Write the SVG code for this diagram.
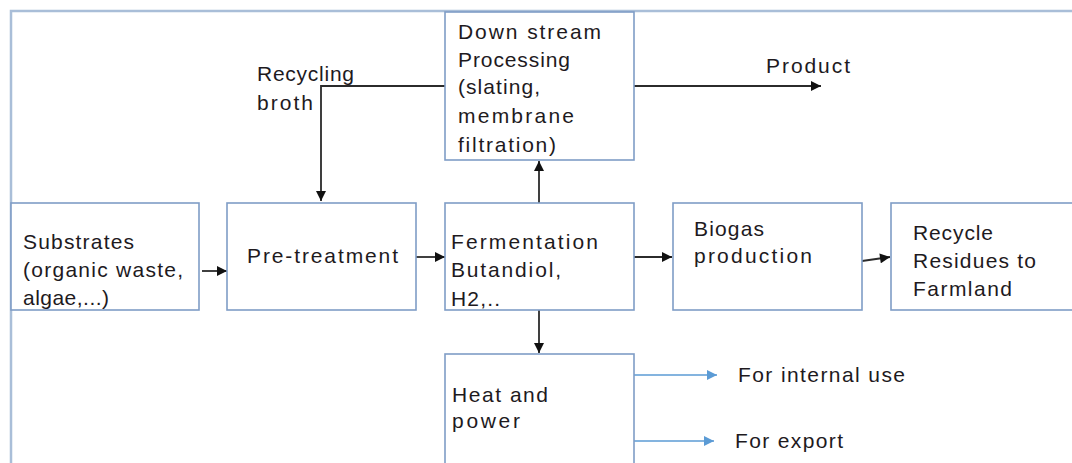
<svg xmlns="http://www.w3.org/2000/svg" width="1072" height="463" viewBox="0 0 1072 463">
<defs>
<style>
.frame{fill:none;stroke:#a9bed8;stroke-width:2.5}
.box{fill:#fff;stroke:#7f9dc6;stroke-width:1.6}
.t{font-family:"Liberation Sans",Arial,sans-serif;font-size:21px;fill:#1e1a1e}
.c{fill:none;stroke:#2b2b2b;stroke-width:1.8}
.b{fill:none;stroke:#5b9bd5;stroke-width:1.6}
</style>
<marker id="ak" viewBox="0 0 10 10" refX="10" refY="5" markerWidth="11" markerHeight="10" markerUnits="userSpaceOnUse" orient="auto"><path d="M0,0 L10,5 L0,10 z" fill="#111"/></marker>
<marker id="ab" viewBox="0 0 10 10" refX="10" refY="5" markerWidth="12" markerHeight="10" markerUnits="userSpaceOnUse" orient="auto"><path d="M0,0 L10,5 L0,10 z" fill="#5b9bd5"/></marker>
</defs>
<rect class="frame" x="11" y="11" width="1080" height="480"/>
<g id="connectors">
<path class="c" d="M445,86 H321 V201" marker-end="url(#ak)"/>
<path class="c" d="M634,86 H821" marker-end="url(#ak)"/>
<path class="c" d="M202,271 H227" marker-end="url(#ak)"/>
<path class="c" d="M416,257 H445" marker-end="url(#ak)"/>
<path class="c" d="M539,203 V161" marker-end="url(#ak)"/>
<path class="c" d="M634,257 H672" marker-end="url(#ak)"/>
<path class="c" d="M862,261 L890,257" marker-end="url(#ak)"/>
<path class="c" d="M539,310 V353" marker-end="url(#ak)"/>
<path class="b" d="M634,375 H717" marker-end="url(#ab)"/>
<path class="b" d="M633,441 H714" marker-end="url(#ab)"/>
<text class="t" x="257" y="81" textLength="97" lengthAdjust="spacing">Recycling</text>
<text class="t" x="257" y="110" textLength="56" lengthAdjust="spacing">broth</text>
<text class="t" x="766" y="73" textLength="84" lengthAdjust="spacing">Product</text>
<text class="t" x="738" y="382" textLength="167" lengthAdjust="spacing">For internal use</text>
<text class="t" x="735" y="448" textLength="108" lengthAdjust="spacing">For export</text>
</g>
<g id="downstream">
<rect class="box" x="445" y="12" width="189" height="148"/>
<text class="t" x="458" y="39" textLength="143" lengthAdjust="spacing">Down stream</text>
<text class="t" x="458" y="67" textLength="112" lengthAdjust="spacing">Processing</text>
<text class="t" x="458" y="94" textLength="82" lengthAdjust="spacing">(slating,</text>
<text class="t" x="458" y="123" textLength="116" lengthAdjust="spacing">membrane</text>
<text class="t" x="458" y="152" textLength="98" lengthAdjust="spacing">filtration)</text>
</g>
<g id="substrates">
<rect class="box" x="11" y="203" width="188" height="107"/>
<text class="t" x="23" y="249" textLength="111" lengthAdjust="spacing">Substrates</text>
<text class="t" x="23" y="277" textLength="160" lengthAdjust="spacing">(organic waste,</text>
<text class="t" x="23" y="305" textLength="86" lengthAdjust="spacing">algae,...)</text>
</g>
<g id="pretreatment">
<rect class="box" x="227" y="203" width="189" height="107"/>
<text class="t" x="247" y="263" textLength="151" lengthAdjust="spacing">Pre-treatment</text>
</g>
<g id="fermentation">
<rect class="box" x="445" y="203" width="189" height="107"/>
<text class="t" x="451" y="249" textLength="147" lengthAdjust="spacing">Fermentation</text>
<text class="t" x="451" y="277" textLength="110" lengthAdjust="spacing">Butandiol,</text>
<text class="t" x="451" y="306" textLength="49" lengthAdjust="spacing">H2,..</text>
</g>
<g id="biogas">
<rect class="box" x="673" y="203" width="189" height="107"/>
<text class="t" x="694" y="236" textLength="70" lengthAdjust="spacing">Biogas</text>
<text class="t" x="694" y="263" textLength="118" lengthAdjust="spacing">production</text>
</g>
<g id="recycle">
<rect class="box" x="891" y="203" width="190" height="107"/>
<text class="t" x="913" y="240" textLength="80" lengthAdjust="spacing">Recycle</text>
<text class="t" x="913" y="268" textLength="123" lengthAdjust="spacing">Residues to</text>
<text class="t" x="913" y="296" textLength="99" lengthAdjust="spacing">Farmland</text>
</g>
<g id="heatpower">
<rect class="box" x="445" y="354" width="189" height="120"/>
<text class="t" x="452" y="402" textLength="96" lengthAdjust="spacing">Heat and</text>
<text class="t" x="452" y="428" textLength="68" lengthAdjust="spacing">power</text>
</g>
</svg>
